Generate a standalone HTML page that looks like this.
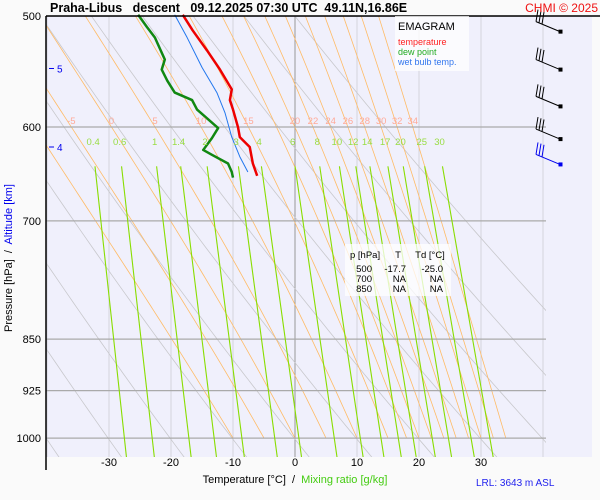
<!DOCTYPE html>
<html><head><meta charset="utf-8"><style>
body{margin:0;background:#fafafa;}
svg{display:block;font-family:"Liberation Sans",sans-serif;}
text{white-space:pre;}
</style></head><body>
<svg id="chart" width="600" height="500" viewBox="0 0 600 500" xml:space="preserve">
<rect x="0" y="0" width="600" height="500" fill="#fafafa"/>
<rect x="46" y="16" width="546" height="441" fill="#f0f0fc"/>
<g id="grid"></g>
<g id="series"></g>
<g id="labels"></g>
<line x1="46" y1="16" x2="600" y2="16" stroke="#000" stroke-width="1.5"/>
<line x1="46" y1="16" x2="46" y2="470" stroke="#000" stroke-width="1.5"/>
<text x="50" y="12" font-size="12.5" font-weight="bold">Praha-Libus   descent   09.12.2025 07:30 UTC  49.11N,16.86E</text>
<text x="598" y="12" font-size="12" fill="#ee1111" text-anchor="end">CHMI © 2025</text>
<text transform="translate(12,258) rotate(-90)" font-size="11" text-anchor="middle"><tspan fill="#000">Pressure [hPa]  /  </tspan><tspan fill="#0000ee">Altitude [km]</tspan></text>
<text x="295" y="483" font-size="11" text-anchor="middle"><tspan fill="#000">Temperature [°C]  /  </tspan><tspan fill="#44cc11">Mixing ratio [g/kg]</tspan></text>
<text x="476" y="486" font-size="10" fill="#2222ee">LRL: 3643 m ASL</text>
<g>
<rect x="395" y="16" width="74" height="55" fill="#ffffff" fill-opacity="0.75"/>
<text x="398" y="30" font-size="11">EMAGRAM</text>
<text x="398" y="45" font-size="9" fill="#ff2222">temperature</text>
<text x="398" y="55" font-size="9" fill="#22aa22">dew point</text>
<text x="398" y="65" font-size="9" fill="#3377ee">wet bulb temp.</text>
</g>
<g font-size="9.5">
<rect x="345" y="244" width="106" height="52" fill="#ffffff" fill-opacity="0.75"/>
<text x="350" y="258">p [hPa]</text><text x="398" y="258" text-anchor="middle">T</text><text x="430" y="258" text-anchor="middle">Td [°C]</text>
<text x="372" y="272" text-anchor="end">500</text><text x="406" y="272" text-anchor="end">-17.7</text><text x="443" y="272" text-anchor="end">-25.0</text>
<text x="372" y="282" text-anchor="end">700</text><text x="406" y="282" text-anchor="end">NA</text><text x="443" y="282" text-anchor="end">NA</text>
<text x="372" y="292" text-anchor="end">850</text><text x="406" y="292" text-anchor="end">NA</text><text x="443" y="292" text-anchor="end">NA</text>
</g>
</svg>
<script>
const pressureLevels=[500,600,700,850,925,1000];
const tempTicks=[-30,-20,-10,0,10,20,30];
const dryThetas=[223,233,243,253,263,273,283,293,303,313,323,333];
const moistThetaW=[-10,-5,0,5,10,15,18,20,22,24,26,28,30,32,34];
const moistLabels=["","-5","0","5","10","15","","20","22","24","26","28","30","32","34"];
const mixRatios=[0.4,0.6,1,1.4,2,3,4,6,8,10,12,14,17,20,25,30];
const tP=[499,512,529,546,564,574,583,600,610,620,637,650];
const tT=[-18.1,-16.5,-14.2,-12.1,-10.2,-10.5,-10.0,-9.2,-8.9,-7.3,-6.8,-6.1];
const dP=[499,509,518,537,546,556,567,574,583,601,611,623,628,637,646,652];
const dT=[-25.3,-23.9,-22.6,-21.0,-21.5,-20.6,-19.4,-16.6,-15.8,-12.4,-13.4,-14.8,-13.4,-10.8,-10.2,-10.0];
const wP=[499,518,544,567,586,610,630,646];
const wT=[-19.4,-17.4,-15.0,-12.6,-11.3,-10.2,-8.9,-7.6];
const altKm=[5,4];
const altP=[545,620];
const windP=[513,546,580,612,638];

const NS='http://www.w3.org/2000/svg';
const X=t=>295+6.2*t;
const Y=p=>16+609*Math.log(p/500);
const grid=document.getElementById('grid'),ser=document.getElementById('series'),lab=document.getElementById('labels');
function el(parent,tag,attrs){const e=document.createElementNS(NS,tag);for(const k in attrs)e.setAttribute(k,attrs[k]);parent.appendChild(e);return e;}
function txt(parent,x,y,s,attrs){const e=el(parent,'text',Object.assign({x:x,y:y},attrs));e.textContent=s;return e;}
const clip=el(document.getElementById('chart'),'clipPath',{id:'pc'});
el(clip,'rect',{x:46,y:16,width:500,height:441});
grid.setAttribute('clip-path','url(#pc)');

for(let t=-40;t<=40;t+=10){const l=el(grid,'line',{x1:X(t),y1:16,x2:X(t),y2:457,stroke:t===0?'#999':'#d4d4dc','stroke-width':1});

}
dryThetas.forEach(th=>{let pts=[];for(let p=400;p<=1060;p+=10){const T=th*Math.pow(p/1000,0.286)-273.15;pts.push(X(T)+','+Y(p));}
const l=el(grid,'polyline',{points:pts.join(' '),fill:'none',stroke:'#c8c8cc','stroke-width':0.8});

});
function es(T){return 6.112*Math.exp(17.67*T/(T+243.5));}
function moist(tw){let T=tw+273.15,p=1000;const Rd=287,cp=1004,L=2.5e6,eps=0.622;
const arr=[[p,T]];while(p>400){const rs=eps*es(T-273.15)/(p-es(T-273.15));const dTdp=(1/p)*(Rd*T+L*rs)/(cp+L*L*rs*eps/(Rd*T*T));T-=dTdp*5;p-=5;arr.push([p,T]);}return arr;}
moistThetaW.forEach((tw,i)=>{const a=moist(tw);const pts=a.map(q=>X(q[1]-273.15)+','+Y(q[0]));
const l=el(grid,'polyline',{points:pts.join(' '),fill:'none',stroke:'#ffbb66','stroke-width':0.8});


if(moistLabels[i]){const q=a.find(v=>v[0]<=600);const t=txt(lab,X(q[1]-273.15),Y(600)-3,moistLabels[i],{'font-size':9.5,fill:'#ffaa99','text-anchor':'middle'});

}});
pressureLevels.forEach(p=>{const l=el(grid,'line',{x1:46,y1:Y(p),x2:546,y2:Y(p),stroke:'#aaa','stroke-width':1.2});


const t=txt(lab,41,Y(p)+4,String(p),{'font-size':11,'text-anchor':'end'});

});
function tOfW(w,p){const e=w*p/(622+w);const a=Math.log(e/6.112);return 243.5*a/(17.67-a);}
mixRatios.forEach(w=>{const l=el(grid,'line',{x1:X(tOfW(w,640)),y1:Y(640),x2:X(tOfW(w,1050)),y2:Y(1050),stroke:'#88dd00','stroke-width':1.1});


const t=txt(lab,X(tOfW(w,622)),Y(615)+3,String(w),{'font-size':9.5,fill:'#99dd44','text-anchor':'middle'});

});
tempTicks.forEach(t=>{const e=txt(lab,X(t),466,String(t),{'font-size':11,'text-anchor':'middle'});

});
altKm.forEach((a,i)=>{const y=Y(altP[i]);const l=el(lab,'line',{x1:49,y1:y,x2:54,y2:y,stroke:'#0000ee','stroke-width':1});


const t=txt(lab,57,y+4,String(a),{'font-size':10,fill:'#0000ee'});

});
function line(P,T,color,w,name){const l=el(ser,'polyline',{points:P.map((p,i)=>X(T[i])+','+Y(p)).join(' '),fill:'none',stroke:color,'stroke-width':w,'stroke-linejoin':'round'});

}
line(wP,wT,'#2277ee',1,'wet-bulb-line');
line(dP,dT,'#118811',2.5,'dew-point-line');
line(tP,tT,'#ee0000',2.5,'temperature-line');
windP.forEach((p,i)=>{const y=Y(p),c=i===windP.length-1?'#0000ee':'#000';const g=el(ser,'g',{stroke:c,'stroke-width':1,fill:'none'});


el(g,'line',{x1:560,y1:y,x2:536,y2:y-10});
for(let k=0;k<3;k++){el(g,'line',{x1:536+k*3,y1:y-10+k*1.2,x2:538+k*3,y2:y-22+k*1.2});}
el(g,'rect',{x:559,y:y-1.5,width:3,height:3,fill:c});});
</script>
</body></html>
